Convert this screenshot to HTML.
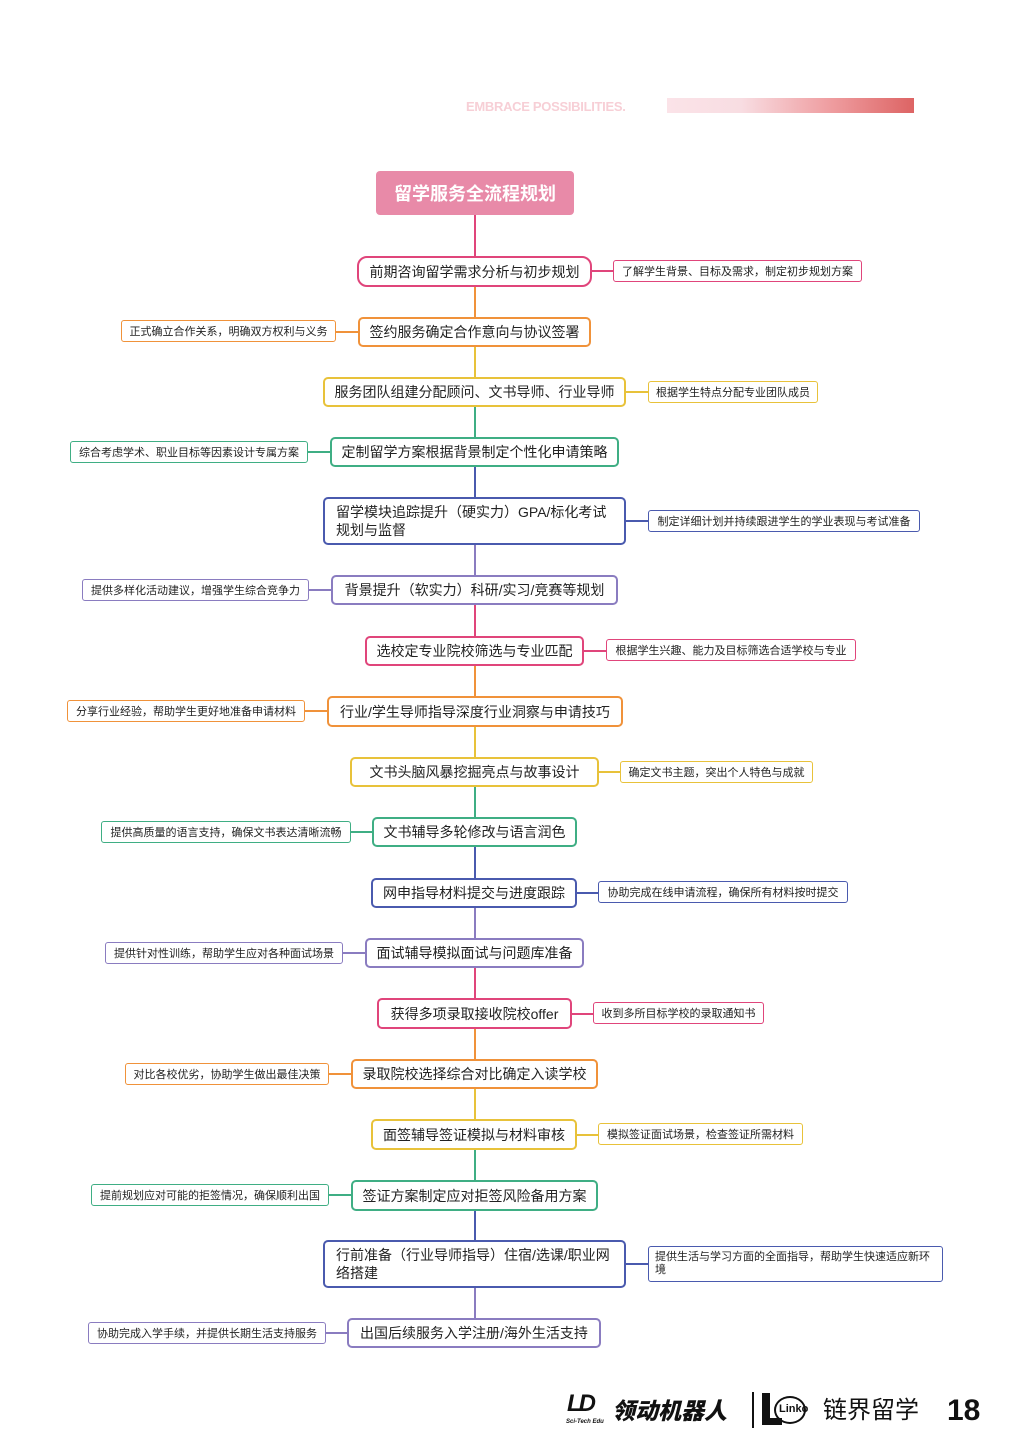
<!DOCTYPE html>
<html><head><meta charset="utf-8"><style>
body{margin:0;background:#fff;}
#p{position:relative;width:1021px;height:1452px;overflow:hidden;font-family:"Liberation Sans","Noto Sans CJK SC",sans-serif;color:#222;}
.n,.s{position:absolute;box-sizing:border-box;background:#fff;display:flex;align-items:center;justify-content:center;white-space:nowrap;}
.n{border:2px solid;border-radius:5px;font-size:14px;}
.s{border:1.5px solid;border-radius:3px;font-size:11px;}
.v,.h{position:absolute;}
.v{width:2px;}
.h{height:2px;}
.pk{border-color:#e0457b}.or{border-color:#f0923a}.ye{border-color:#e8c23a}.gr{border-color:#3fae84}.bl{border-color:#4a5aae}.pu{border-color:#8a7cc0}
.bpk{background:#e0457b}.bor{background:#f0923a}.bye{background:#e8c23a}.bgr{background:#3fae84}.bbl{background:#4a5aae}.bpu{background:#8a7cc0}
.two{justify-content:flex-start;padding-left:11px;padding-right:8px;white-space:normal;line-height:18px;}
</style></head><body><div id="p">
<div style="position:absolute;left:466px;top:99px;font-size:13px;font-weight:bold;color:#f7cfd6;letter-spacing:-0.3px;">EMBRACE POSSIBILITIES.</div>
<div style="position:absolute;left:667px;top:98px;width:247px;height:15px;background:linear-gradient(90deg,#fbe3e8 0%,#f8dde2 30%,#ef9fa2 65%,#dd6464 100%);"></div>
<div style="position:absolute;left:376px;top:171px;width:198px;height:44px;background:#e88aa8;border-radius:4px;color:#fff;font-size:18px;font-weight:bold;display:flex;align-items:center;justify-content:center;">留学服务全流程规划</div>

<div class="v bpk" style="left:474px;top:215px;height:41px"></div>
<div class="v bor" style="left:474px;top:287px;height:30px"></div>
<div class="v bye" style="left:474px;top:347px;height:30px"></div>
<div class="v bgr" style="left:474px;top:407px;height:30px"></div>
<div class="v bbl" style="left:474px;top:467px;height:30px"></div>
<div class="v bpu" style="left:474px;top:545px;height:30px"></div>
<div class="v bpk" style="left:474px;top:605px;height:31px"></div>
<div class="v bor" style="left:474px;top:666px;height:30px"></div>
<div class="v bye" style="left:474px;top:727px;height:30px"></div>
<div class="v bgr" style="left:474px;top:787px;height:30px"></div>
<div class="v bbl" style="left:474px;top:847px;height:31px"></div>
<div class="v bpu" style="left:474px;top:908px;height:30px"></div>
<div class="v bpk" style="left:474px;top:968px;height:30px"></div>
<div class="v bor" style="left:474px;top:1029px;height:30px"></div>
<div class="v bye" style="left:474px;top:1089px;height:30px"></div>
<div class="v bgr" style="left:474px;top:1150px;height:30px"></div>
<div class="v bbl" style="left:474px;top:1211px;height:29px"></div>
<div class="v bpu" style="left:474px;top:1288px;height:30px"></div>

<div class="h bpk" style="left:592px;top:270px;width:21px"></div>
<div class="h bor" style="left:336px;top:331px;width:22px"></div>
<div class="h bye" style="left:626px;top:391px;width:22px"></div>
<div class="h bgr" style="left:308px;top:451px;width:22px"></div>
<div class="h bbl" style="left:626px;top:520px;width:22px"></div>
<div class="h bpu" style="left:309px;top:589px;width:22px"></div>
<div class="h bpk" style="left:584px;top:650px;width:22px"></div>
<div class="h bor" style="left:305px;top:710px;width:22px"></div>
<div class="h bye" style="left:599px;top:771px;width:21px"></div>
<div class="h bgr" style="left:351px;top:831px;width:21px"></div>
<div class="h bbl" style="left:577px;top:892px;width:21px"></div>
<div class="h bpu" style="left:343px;top:952px;width:22px"></div>
<div class="h bpk" style="left:572px;top:1013px;width:21px"></div>
<div class="h bor" style="left:329px;top:1073px;width:22px"></div>
<div class="h bye" style="left:577px;top:1134px;width:21px"></div>
<div class="h bgr" style="left:329px;top:1194px;width:22px"></div>
<div class="h bbl" style="left:626px;top:1263px;width:22px"></div>
<div class="h bpu" style="left:326px;top:1332px;width:21px"></div>

<div class="n pk" style="left:357px;top:256px;width:235px;height:31px;border-radius:10px">前期咨询留学需求分析与初步规划</div>
<div class="n or" style="left:358px;top:317px;width:233px;height:30px">签约服务确定合作意向与协议签署</div>
<div class="n ye" style="left:323px;top:377px;width:303px;height:30px">服务团队组建分配顾问、文书导师、行业导师</div>
<div class="n gr" style="left:330px;top:437px;width:289px;height:30px">定制留学方案根据背景制定个性化申请策略</div>
<div class="n bl two" style="left:323px;top:497px;width:303px;height:48px">留学模块追踪提升（硬实力）GPA/标化考试规划与监督</div>
<div class="n pu" style="left:331px;top:575px;width:287px;height:30px">背景提升（软实力）科研/实习/竞赛等规划</div>
<div class="n pk" style="left:365px;top:636px;width:219px;height:30px">选校定专业院校筛选与专业匹配</div>
<div class="n or" style="left:327px;top:696px;width:296px;height:31px">行业/学生导师指导深度行业洞察与申请技巧</div>
<div class="n ye" style="left:350px;top:757px;width:249px;height:30px">文书头脑风暴挖掘亮点与故事设计</div>
<div class="n gr" style="left:372px;top:817px;width:205px;height:30px">文书辅导多轮修改与语言润色</div>
<div class="n bl" style="left:371px;top:878px;width:206px;height:30px">网申指导材料提交与进度跟踪</div>
<div class="n pu" style="left:365px;top:938px;width:219px;height:30px">面试辅导模拟面试与问题库准备</div>
<div class="n pk" style="left:377px;top:998px;width:195px;height:31px">获得多项录取接收院校offer</div>
<div class="n or" style="left:351px;top:1059px;width:247px;height:30px">录取院校选择综合对比确定入读学校</div>
<div class="n ye" style="left:371px;top:1119px;width:206px;height:31px">面签辅导签证模拟与材料审核</div>
<div class="n gr" style="left:351px;top:1180px;width:247px;height:31px">签证方案制定应对拒签风险备用方案</div>
<div class="n bl two" style="left:323px;top:1240px;width:303px;height:48px">行前准备（行业导师指导）住宿/选课/职业网络搭建</div>
<div class="n pu" style="left:347px;top:1318px;width:254px;height:30px">出国后续服务入学注册/海外生活支持</div>

<div class="s pk" style="left:613px;top:260px;width:249px;height:22px">了解学生背景、目标及需求，制定初步规划方案</div>
<div class="s or" style="left:121px;top:320px;width:215px;height:22px">正式确立合作关系，明确双方权利与义务</div>
<div class="s ye" style="left:648px;top:381px;width:170px;height:22px">根据学生特点分配专业团队成员</div>
<div class="s gr" style="left:70px;top:441px;width:238px;height:22px">综合考虑学术、职业目标等因素设计专属方案</div>
<div class="s bl" style="left:648px;top:510px;width:272px;height:22px">制定详细计划并持续跟进学生的学业表现与考试准备</div>
<div class="s pu" style="left:82px;top:579px;width:227px;height:22px">提供多样化活动建议，增强学生综合竞争力</div>
<div class="s pk" style="left:606px;top:639px;width:250px;height:22px">根据学生兴趣、能力及目标筛选合适学校与专业</div>
<div class="s or" style="left:67px;top:700px;width:238px;height:22px">分享行业经验，帮助学生更好地准备申请材料</div>
<div class="s ye" style="left:620px;top:761px;width:193px;height:22px">确定文书主题，突出个人特色与成就</div>
<div class="s gr" style="left:101px;top:821px;width:250px;height:22px">提供高质量的语言支持，确保文书表达清晰流畅</div>
<div class="s bl" style="left:598px;top:881px;width:250px;height:22px">协助完成在线申请流程，确保所有材料按时提交</div>
<div class="s pu" style="left:105px;top:942px;width:238px;height:22px">提供针对性训练，帮助学生应对各种面试场景</div>
<div class="s pk" style="left:593px;top:1002px;width:171px;height:22px">收到多所目标学校的录取通知书</div>
<div class="s or" style="left:125px;top:1063px;width:204px;height:22px">对比各校优劣，协助学生做出最佳决策</div>
<div class="s ye" style="left:598px;top:1123px;width:205px;height:22px">模拟签证面试场景，检查签证所需材料</div>
<div class="s gr" style="left:91px;top:1184px;width:238px;height:22px">提前规划应对可能的拒签情况，确保顺利出国</div>
<div class="s bl" style="left:648px;top:1246px;width:295px;height:36px;justify-content:flex-start;padding-left:6px;padding-right:6px;white-space:normal;line-height:13px">提供生活与学习方面的全面指导，帮助学生快速适应新环境</div>
<div class="s pu" style="left:88px;top:1322px;width:238px;height:22px">协助完成入学手续，并提供长期生活支持服务</div>

<div style="position:absolute;left:567px;top:1392px;width:38px;height:24px;font-size:24px;font-weight:900;font-style:italic;line-height:24px;color:#111;letter-spacing:-3px">LD</div>
<div style="position:absolute;left:566px;top:1419px;font-size:6px;font-style:italic;font-weight:bold;color:#111">Sci-Tech Edu</div>
<div style="position:absolute;left:612px;top:1397px;font-size:23px;font-weight:900;font-style:italic;color:#111;line-height:28px">领动机器人</div>
<div style="position:absolute;left:752px;top:1392px;width:2px;height:36px;background:#111"></div>
<div style="position:absolute;left:762px;top:1393px;width:8px;height:32px;background:#111"></div>
<div style="position:absolute;left:762px;top:1418px;width:20px;height:7px;background:#111"></div>
<div style="position:absolute;left:774px;top:1396px;width:32px;height:28px;border:2px solid #111;border-radius:50%;box-sizing:border-box"></div>
<div style="position:absolute;left:779px;top:1403px;font-size:11px;font-weight:bold;color:#111">Linko</div>
<div style="position:absolute;left:823px;top:1396px;font-size:24px;color:#111;line-height:30px">链界留学</div>
<div style="position:absolute;left:947px;top:1394px;font-size:30px;font-weight:bold;color:#111;line-height:34px">18</div>
</div></body></html>
